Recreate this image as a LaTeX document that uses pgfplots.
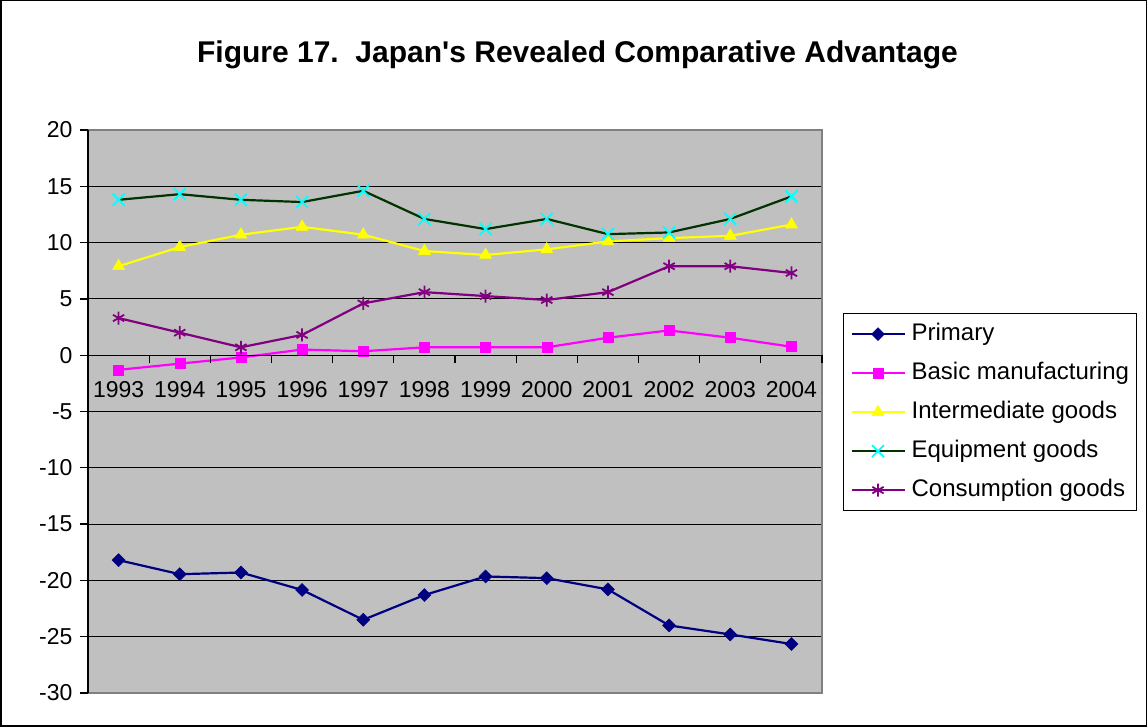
\documentclass[border=0pt]{standalone}
\usepackage{pgfplots}
\pgfplotsset{compat=1.18}
\usepackage{fontspec}
\setmainfont{Liberation Sans}
\definecolor{bgGray}{HTML}{C0C0C0}
\definecolor{frameGray}{HTML}{808080}
\definecolor{navyc}{HTML}{000080}
\definecolor{magc}{HTML}{FF00FF}
\definecolor{yelc}{HTML}{FFFF00}
\definecolor{cyac}{HTML}{00FFFF}
\definecolor{dkgc}{HTML}{003300}
\definecolor{purc}{HTML}{800080}
\begin{document}
\begin{tikzpicture}
\draw[black, line width=1.5pt] (0.75pt,0.75pt) rectangle (1146.25pt,726.25pt);
\node[font=\fontsize{30}{36}\selectfont\bfseries] at (577.5pt,672pt) {Figure 17.\ \ Japan\textquotesingle s Revealed Comparative Advantage};
\begin{axis}[
  at={(88pt,34pt)}, anchor=south west, scale only axis,
  width=734pt, height=563pt,
  xmin=-0.5, xmax=11.5, ymin=-30, ymax=20,
  axis background/.style={fill=bgGray},
  axis line style={draw=frameGray, line width=1.3pt},
  ytick={-30,-25,...,20}, yticklabels={}, xtick=\empty,
  major tick length=0pt,
  ymajorgrids, grid style={black, line width=0.9pt},
  clip=false,
  legend style={at={(1.0286,0.675)}, anchor=north west, draw=black, line width=0.8pt, fill=white,
    font=\fontsize{24}{28}\selectfont, inner xsep=7pt, inner ysep=9.5pt, row sep=16.5pt,
    nodes={inner sep=0pt, text height=17.5pt, text depth=5pt},
    /tikz/every odd column/.style={column sep=6pt},
    cells={anchor=west}},
  legend image code/.code={\draw[mark repeat=2,mark phase=2,#1] plot coordinates {(0pt,0pt)(26.5pt,0pt)(53pt,0pt)};},
]
\addplot[navyc, line width=2.2pt, mark=square*, mark size=4.6pt, mark options={fill=navyc, line width=0.5pt, rotate=45}] coordinates {
(0,-18.2)(1,-19.45)(2,-19.3)(3,-20.85)(4,-23.5)(5,-21.3)(6,-19.65)(7,-19.8)(8,-20.8)(9,-24.0)(10,-24.8)(11,-25.65)};
\addlegendentry{Primary}
\addplot[magc, line width=2.2pt, mark=square*, mark size=5pt, mark options={fill=magc, line width=0.5pt}] coordinates {
(0,-1.3)(1,-0.75)(2,-0.2)(3,0.5)(4,0.35)(5,0.7)(6,0.7)(7,0.7)(8,1.55)(9,2.2)(10,1.55)(11,0.75)};
\addlegendentry{Basic manufacturing}
\addplot[yelc, line width=2.2pt, mark=triangle*, mark size=7pt, mark options={fill=yelc, line width=0.5pt}] coordinates {
(0,7.9)(1,9.6)(2,10.7)(3,11.4)(4,10.7)(5,9.25)(6,8.9)(7,9.4)(8,10.1)(9,10.4)(10,10.6)(11,11.6)};
\addlegendentry{Intermediate goods}
\addplot[dkgc, line width=2.2pt, mark=x, mark size=8.5pt, mark options={draw=cyac, line width=1.8pt}] coordinates {
(0,13.8)(1,14.3)(2,13.8)(3,13.6)(4,14.6)(5,12.1)(6,11.2)(7,12.1)(8,10.75)(9,10.9)(10,12.1)(11,14.1)};
\addlegendentry{Equipment goods}
\addplot[purc, line width=2.2pt, mark=asterisk, mark size=6.5pt, mark options={draw=purc, line width=1.8pt}] coordinates {
(0,3.3)(1,2.0)(2,0.7)(3,1.8)(4,4.6)(5,5.6)(6,5.25)(7,4.9)(8,5.6)(9,7.9)(10,7.9)(11,7.3)};
\addlegendentry{Consumption goods}
\end{axis}
% y axis on the left
\begin{axis}[
  at={(88pt,34pt)}, anchor=south west, scale only axis,
  width=734pt, height=563pt,
  xmin=-0.5, xmax=11.5, ymin=-30, ymax=20,
  axis y line=left, axis x line=none,
  axis line style={-, black, line width=1.3pt},
  ytick={-30,-25,...,20},
  yticklabels={-30,-25,-20,-15,-10,-5,0,5,10,15,20},
  major tick length=8pt, tick align=outside,
  every major y tick/.style={black, line width=1.3pt},
  tick label style={font=\fontsize{23}{27}\selectfont, black},
  yticklabel style={xshift=-4pt},
]
\end{axis}
% x axis along the zero line
\begin{axis}[
  at={(88pt,371.8pt)}, anchor=south west, scale only axis,
  width=734pt, height=10pt,
  xmin=-0.5, xmax=11.5, ymin=0, ymax=1,
  axis x line=bottom, axis y line=none,
  axis line style={-, black, line width=1.3pt},
  xtick={0,...,11},
  xticklabels={1993,1994,1995,1996,1997,1998,1999,2000,2001,2002,2003,2004},
  minor xtick={-0.5,0.5,...,11.5},
  every major x tick/.style={draw=none},
  every minor x tick/.style={black, line width=1.3pt},
  major tick length=8pt, minor tick length=8pt, tick align=outside,
  tick label style={font=\fontsize{23}{27}\selectfont, black},
  xticklabel style={yshift=-15pt},
]
\end{axis}
\end{tikzpicture}
\end{document}
